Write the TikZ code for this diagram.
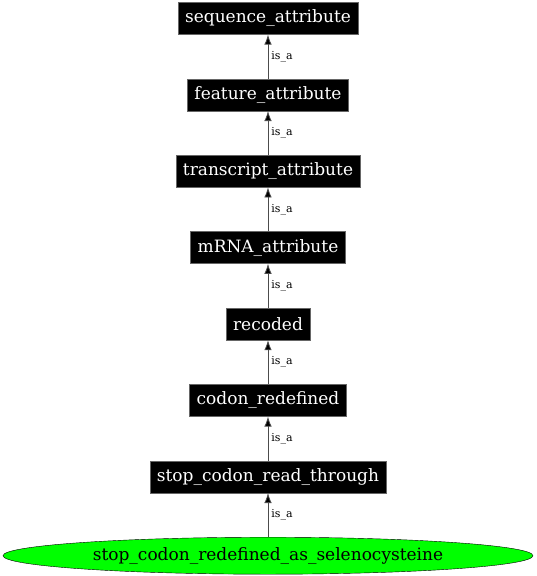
\documentclass[tikz,border=0pt]{standalone}
\usepackage{fontspec}
\setmainfont{DejaVu Serif}
\usetikzlibrary{matrix,arrows.meta,shapes.geometric}

\begin{document}
\begin{tikzpicture}[
		termbox/.style={fill=black, text=white, draw=black!60, minimum height=32pt, inner xsep=7pt, inner ysep=2pt, font=\fontsize{17}{20}\selectfont},
		leafterm/.style={ellipse, fill=green, draw=black, text=black, minimum width=530pt, minimum height=37pt, inner sep=0pt},
		isa/.style={right, inner sep=3pt, text=black, font=\fontsize{11}{13}\selectfont}
	]
		\useasboundingbox (0,0) rectangle (536pt,-576pt);
		\matrix (m) [matrix of nodes, row sep=44pt, inner sep=0pt, nodes={termbox}, anchor=north] at (268pt,-2pt)
		{
			sequence\_attribute \\
			feature\_attribute \\
			transcript\_attribute \\
			mRNA\_attribute \\
			recoded \\
			codon\_redefined \\
			stop\_codon\_read\_through \\
			|[leafterm]| stop\_codon\_redefined\_as\_selenocysteine \\
		};
		\path[-{Latex[length=10pt,width=7.5pt]}, draw=black!70, line width=0.8pt]
		(m-2-1) edge node [isa] {is\_a} (m-1-1)
		(m-3-1) edge node [isa] {is\_a} (m-2-1)
		(m-4-1) edge node [isa] {is\_a} (m-3-1)
		(m-5-1) edge node [isa] {is\_a} (m-4-1)
		(m-6-1) edge node [isa] {is\_a} (m-5-1)
		(m-7-1) edge node [isa] {is\_a} (m-6-1)
		(m-8-1) edge node [isa] {is\_a} (m-7-1)
		;
	\end{tikzpicture}
\end{document}
